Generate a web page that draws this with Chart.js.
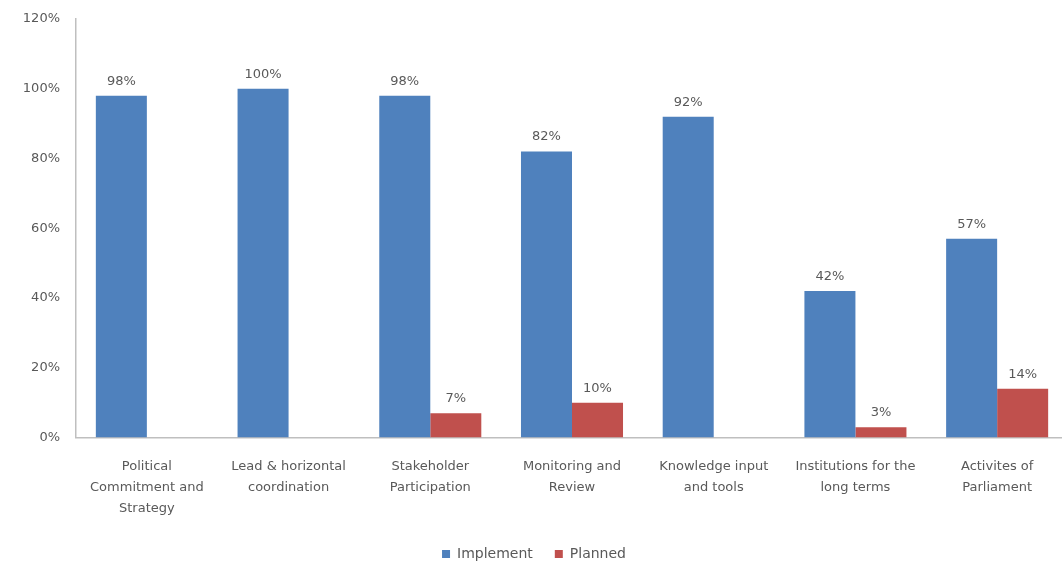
<!DOCTYPE html>
<html>
<head>
<meta charset="utf-8">
<script src="https://cdn.jsdelivr.net/npm/chart.js@4"></script>
<style>
  html, body { margin: 0; padding: 0; background: #fff; overflow: hidden; }
  /* the plot area runs slightly past the right edge of the window */
  #wrap { width: 1068px; height: 567px; }
</style>
</head>
<body>
<div id="wrap"><canvas id="chart"></canvas></div>
<script>
const categories = [
    ['Political', 'Commitment and', 'Strategy'],
    ['Lead & horizontal', 'coordination'],
    ['Stakeholder', 'Participation'],
    ['Monitoring and', 'Review'],
    ['Knowledge input', 'and tools'],
    ['Institutions for the', 'long terms'],
    ['Activites of', 'Parliament']
];
const implementValues = [98, 100, 98, 82, 92, 42, 57];
const plannedValues = [null, null, 7, 10, null, 3, 14];
const yTicks = [0, 20, 40, 60, 80, 100, 120];

const textColor = '#595959';
const fontFamily = '"DejaVu Sans", sans-serif';
const fontSize = 13;

// draws the "98%" style labels on top of each bar
const barLabels = {
    id: 'barLabels',
    afterDatasetsDraw(chart) {
        const ctx = chart.ctx;
        ctx.save();
        ctx.font = fontSize + 'px ' + fontFamily;
        ctx.fillStyle = textColor;
        ctx.textAlign = 'center';
        ctx.textBaseline = 'bottom';
        chart.data.datasets.forEach((ds, i) => {
            const meta = chart.getDatasetMeta(i);
            meta.data.forEach((bar, j) => {
                const v = ds.data[j];
                if (v === null || v === undefined) return;
                ctx.fillText(v + '%', bar.x, bar.y - 8);
            });
        });
        ctx.restore();
    }
};

const ctx = document.getElementById('chart').getContext('2d');
new Chart(ctx, {
    type: 'bar',
    data: {
        labels: categories,
        datasets: [
            {
                label: 'Implement',
                data: implementValues,
                backgroundColor: '#4F81BD',
                categoryPercentage: 0.72,
                barPercentage: 1.0
            },
            {
                label: 'Planned',
                data: plannedValues,
                backgroundColor: '#C0504D',
                categoryPercentage: 0.72,
                barPercentage: 1.0
            }
        ]
    },
    options: {
        responsive: true,
        maintainAspectRatio: false,
        animation: false,
        layout: { padding: { top: 19, right: 0, left: 0, bottom: -4 } },
        plugins: {
            legend: {
                position: 'bottom',
                labels: {
                    boxWidth: 8,
                    boxHeight: 8,
                    padding: 22,
                    color: textColor,
                    font: { family: fontFamily, size: 14 }
                }
            },
            tooltip: { enabled: false }
        },
        scales: {
            x: {
                grid: { display: false, drawTicks: false },
                border: { color: '#BFBFBF', width: 1.5 },
                // the wide legend spacing should not push the plot up
                afterFit(axis) {
                    axis.height -= 13;
                },
                ticks: {
                    color: textColor,
                    font: { family: fontFamily, size: fontSize, lineHeight: 1.6 },
                    padding: 19,
                    maxRotation: 0,
                    autoSkip: false
                }
            },
            y: {
                min: 0,
                max: 120,
                grid: { display: false, drawTicks: false },
                border: { color: '#BFBFBF', width: 1.5 },
                afterBuildTicks(axis) {
                    axis.ticks = yTicks.map(v => ({ value: v }));
                },
                // fixed axis width, and the top tick sits right at the layout padding
                afterFit(axis) {
                    axis.width = 76;
                    axis.paddingTop = 0;
                },
                ticks: {
                    color: textColor,
                    font: { family: fontFamily, size: fontSize },
                    padding: 16,
                    callback: v => v + '%'
                }
            }
        }
    },
    plugins: [barLabels]
});
</script>
</body>
</html>
